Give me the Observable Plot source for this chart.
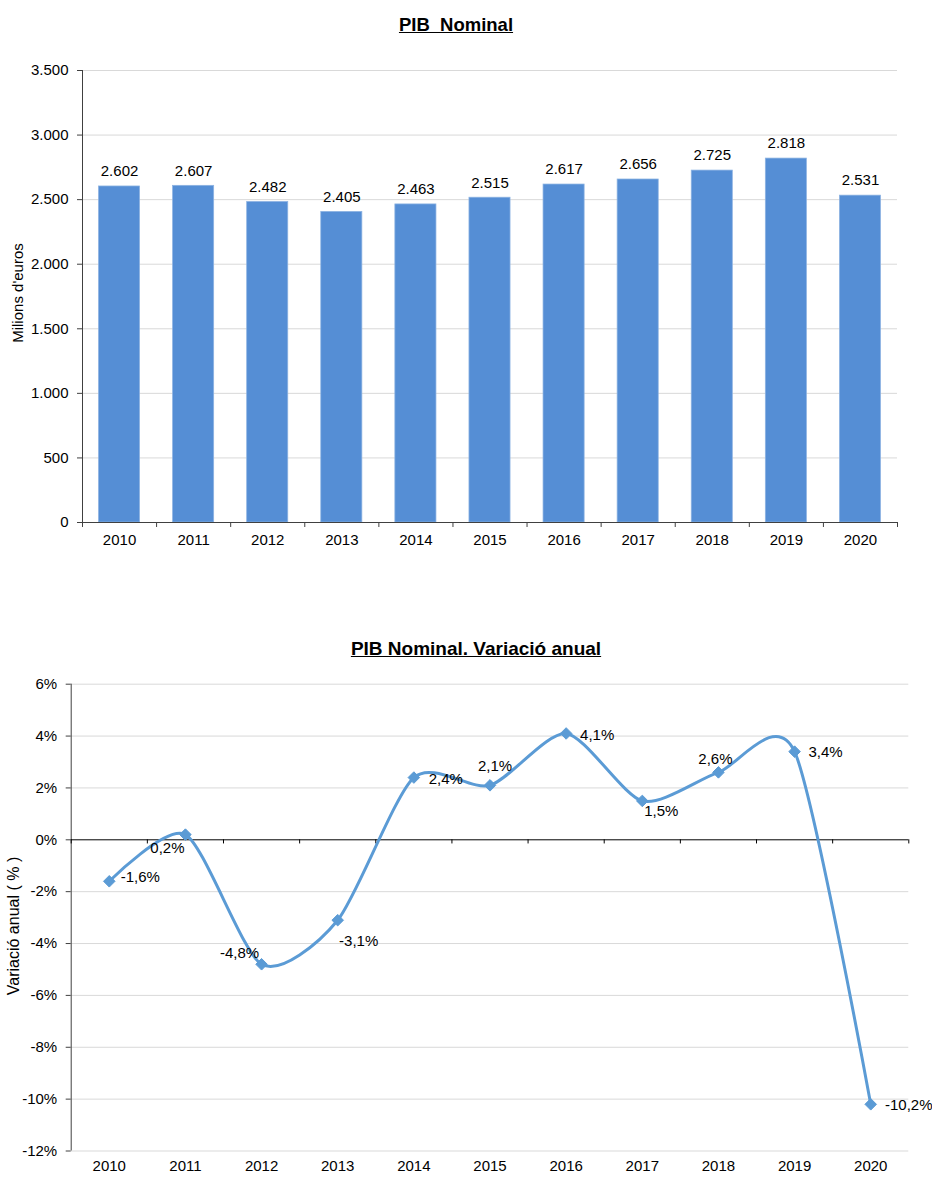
<!DOCTYPE html>
<html>
<head>
<meta charset="utf-8">
<script src="https://cdn.jsdelivr.net/npm/d3@7"></script>
<script src="https://cdn.jsdelivr.net/npm/@observablehq/plot@0.6"></script>
<style>
  body { margin: 0; background: #fff; font-family: "Liberation Sans", Arial, sans-serif; }
  #page { position: relative; width: 932px; height: 1177px; overflow: hidden; }
  .title { position: absolute; transform: translateX(-50%); font-weight: bold; line-height: 1; text-decoration: underline; white-space: pre; color: #000; }
  .ylab { position: absolute; transform: translate(-50%, -50%) rotate(-90deg); font-size: 15px; white-space: pre; color: #000; }
  .chart { position: absolute; left: 0; }
</style>
</head>
<body>
<div id="page">
  <div class="chart" id="c1" style="top:0px;"></div>
  <div class="chart" id="c2" style="top:600px;"></div>
  <div class="title" style="left:456px; top:15.6px; font-size:18.5px;">PIB  Nominal</div>
  <div class="title" style="left:476px; top:638.5px; font-size:19px;">PIB Nominal. Variació anual</div>
  <div class="ylab" style="left:17px; top:293px;">Milions d'euros</div>
  <div class="ylab" style="left:14px; top:926px; font-size:16px;">Variació anual ( % )</div>
</div>
<script>
// ---- data ----
const years = [2010, 2011, 2012, 2013, 2014, 2015, 2016, 2017, 2018, 2019, 2020];
const pibNominal = [2602, 2607, 2482, 2405, 2463, 2515, 2617, 2656, 2725, 2818, 2531];
const variacioAnual = [-1.6, 0.2, -4.8, -3.1, 2.4, 2.1, 4.1, 1.5, 2.6, 3.4, -10.2];
const pibTicks = [0, 500, 1000, 1500, 2000, 2500, 3000, 3500];
const pctTicks = [-12, -10, -8, -6, -4, -2, 0, 2, 4, 6];

// label placement (styling only: pixel offsets from each point)
const labelOffsets = {
  2010: [31, -4], 2011: [-18, 14], 2012: [-22, -11], 2013: [21, 21],
  2014: [32, 2], 2015: [5, -19], 2016: [31, 2], 2017: [19, 10],
  2018: [-3, -13], 2019: [31, 1], 2020: [38, 1]
};

const fontFamily = '"Liberation Sans", Arial, sans-serif';
const locale = d3.formatLocale({decimal: ",", thousands: ".", grouping: [3], currency: ["", " €"]});
const fmtThousands = locale.format(",");
const fmtPct = d => d.toFixed(1).replace(".", ",") + "%";

const pibData = years.map((year, i) => ({year, value: pibNominal[i]}));
const varData = years.map((year, i) => ({year, value: variacioAnual[i]}));
const boundaries = years.map(y => y - 0.5).concat([years[years.length - 1] + 0.5]);
const xDomain = [years[0] - 0.5, years[years.length - 1] + 0.5];
const axisColor = "#404040";

// ---- chart 1 ----
const c1 = Plot.plot({
  width: 932, height: 560,
  marginTop: 70, marginBottom: 38, marginLeft: 82, marginRight: 35,
  style: {fontFamily, fontSize: "15px", color: "#000", background: "transparent", overflow: "visible"},
  x: {domain: xDomain, axis: null},
  y: {domain: [0, 3500], axis: null},
  marks: [
    Plot.gridY(pibTicks.filter(d => d > 0), {stroke: "#d9d9d9", strokeOpacity: 1}),
    Plot.rect(pibData, {x1: d => d.year - 0.5, x2: d => d.year + 0.5, y1: 0, y2: "value",
      insetLeft: 16.5, insetRight: 16.5, fill: "#558ED5", stroke: "#8db3e2", strokeWidth: 0.75}),
    Plot.ruleY([0], {stroke: axisColor}),
    Plot.ruleX([xDomain[0]], {stroke: axisColor}),
    Plot.ruleX(boundaries, {x: d => d, y1: 0, y2: -38.7, stroke: axisColor}),
    Plot.axisY({ticks: pibTicks, tickSize: 5, tickPadding: 9, tickFormat: fmtThousands, label: null, stroke: axisColor, fill: "#000"}),
    Plot.axisX({ticks: years, tickSize: 0, tickPadding: 12, tickFormat: d => String(d), label: null, fill: "#000"}),
    Plot.text(pibData, {x: "year", y: "value", text: d => fmtThousands(d.value), dy: -15, fill: "#000"})
  ]
});
document.getElementById("c1").appendChild(c1);

// ---- chart 2 ----
const c2 = Plot.plot({
  width: 932, height: 577,
  marginTop: 83.7, marginBottom: 26.5, marginLeft: 70.7, marginRight: 23.7,
  style: {fontFamily, fontSize: "15px", color: "#000", background: "transparent", overflow: "visible"},
  x: {domain: xDomain, axis: null},
  y: {domain: [-12, 6], axis: null},
  marks: [
    Plot.gridY(pctTicks.filter(d => d !== 0), {stroke: "#d9d9d9", strokeOpacity: 1}),
    Plot.ruleX([xDomain[0]], {stroke: axisColor}),
    Plot.ruleY([0], {stroke: "#000"}),
    Plot.ruleX(boundaries, {x: d => d, y1: 0, y2: -0.16, stroke: "#000"}),
    Plot.axisY({ticks: pctTicks, tickSize: 5, tickPadding: 9, tickFormat: d => d + "%", label: null, stroke: axisColor, fill: "#000"}),
    Plot.axisX({ticks: years, tickSize: 0, tickPadding: 9, tickFormat: d => String(d), label: null, fill: "#000"}),
    Plot.line(varData, {x: "year", y: "value", curve: "cardinal", tension: 0.25, stroke: "#5B9BD5", strokeWidth: 3}),
    Plot.dot(varData, {x: "year", y: "value", symbol: "diamond2", r: 5.2, fill: "#5B9BD5", stroke: "#5B9BD5", strokeWidth: 1}),
    ...varData.map(d => Plot.text([d], {x: "year", y: "value", text: v => fmtPct(v.value),
      dx: labelOffsets[d.year][0], dy: labelOffsets[d.year][1], fill: "#000"}))
  ]
});
document.getElementById("c2").appendChild(c2);
</script>
</body>
</html>
